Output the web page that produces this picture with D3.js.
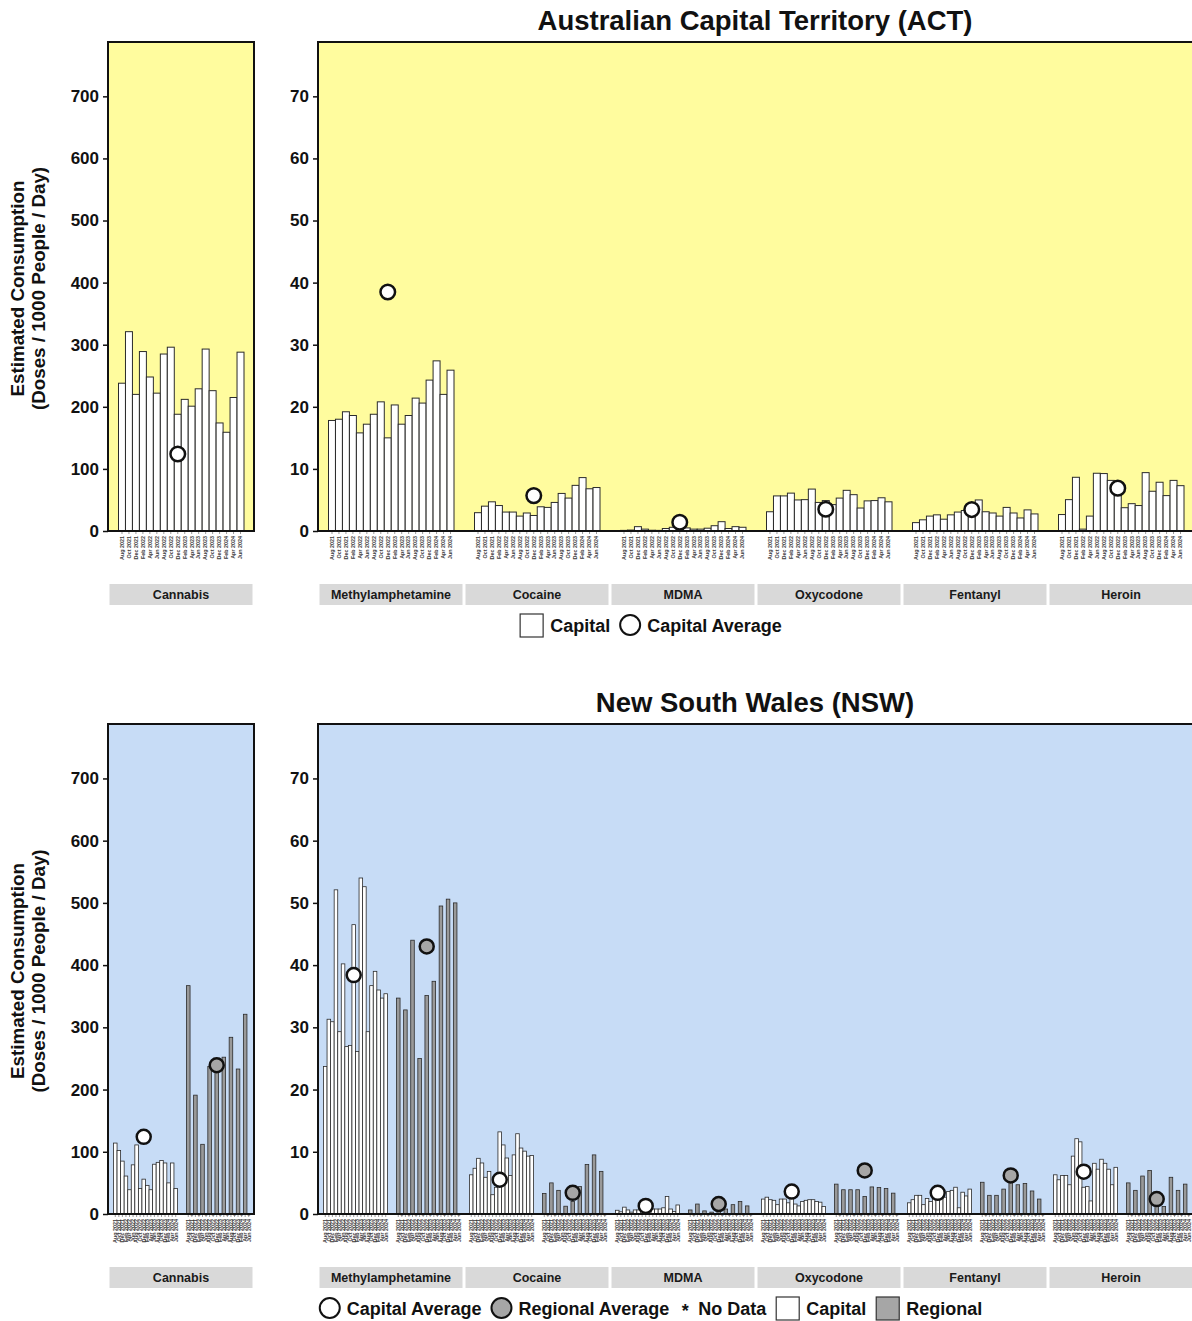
<!DOCTYPE html>
<html><head><meta charset="utf-8">
<script src="https://cdn.jsdelivr.net/npm/d3@7"></script>
<style>
body{margin:0;background:#fff;}
text{font-family:"Liberation Sans",Arial,Helvetica,sans-serif;}
</style>
</head><body>
<svg id="chart" width="1192" height="1321"></svg>
<script>
// ---------------- DATA ----------------
const months = ["Aug 2021","Oct 2021","Dec 2021","Feb 2022","Apr 2022","Jun 2022","Aug 2022","Oct 2022","Dec 2022",
  "Feb 2023","Apr 2023","Jun 2023","Aug 2023","Oct 2023","Dec 2023","Feb 2024","Apr 2024","Jun 2024"];
const drugs = ["Cannabis","Methylamphetamine","Cocaine","MDMA","Oxycodone","Fentanyl","Heroin"];
const mainTicks = [0,10,20,30,40,50,60,70];
const cannabisTicks = [0,100,200,300,400,500,600,700];

// ACT (capital only)
const actCannabis = [238,321,220,289,248,222,285,296,188,212,201,229,293,226,174,159,215,288];
const actMeth = [17.8,18.0,19.2,18.6,15.8,17.2,18.8,20.8,15.0,20.3,17.2,18.6,21.4,20.6,24.3,27.4,22.0,25.9];
const actCocaine = [2.95,4.0,4.7,4.1,3.05,3.05,2.4,2.9,2.5,3.9,3.8,4.6,6.05,5.3,7.35,8.6,6.8,7.0];
const actMDMA = [0.1,0.15,0.7,0.3,0.12,0.1,0.4,0.6,0.5,0.5,0.3,0.3,0.45,0.85,1.5,0.4,0.7,0.6];
const actOxycodone = [3.1,5.65,5.65,6.1,5.0,5.05,6.75,4.6,4.9,4.25,5.3,6.55,5.85,3.7,4.85,4.9,5.35,4.7];
const actFentanyl = [1.35,1.8,2.4,2.6,1.9,2.6,3.05,3.3,3.6,5.0,3.1,2.9,2.4,3.8,2.9,2.1,3.4,2.75];
const actHeroin = [2.65,5.05,8.65,0.3,2.4,9.3,9.25,8.15,6.5,3.75,4.4,4.1,9.4,6.4,7.85,5.7,8.15,7.3];
const actCapitalAvg = [124,38.5,5.7,1.4,3.5,3.45,6.9];

// NSW capital
const nswCapCannabis = [114,102,85,61,39,79,111,41,56,46,39,80,83,86,82,50,82,41];
const nswCapMeth = [23.7,31.3,30.9,52.1,29.3,40.2,26.9,27.1,46.5,26.1,54.0,52.6,29.3,36.7,39.0,36.0,34.7,35.4];
const nswCapCocaine = [6.3,7.35,8.95,8.2,5.9,6.85,3.1,4.3,13.2,11.1,9.0,6.2,9.5,12.9,10.6,10.1,9.3,9.4];
const nswCapMDMA = [0.6,0.35,1.1,0.65,0.3,0.65,0.65,0.9,1.2,0.5,0.8,0.8,0.8,1.0,2.8,0.8,0.4,1.45];
const nswCapOxycodone = [2.4,2.7,2.3,2.2,1.5,2.4,2.4,1.8,2.6,1.6,1.3,2.0,2.2,2.3,2.3,2.0,1.9,1.2];
const nswCapFentanyl = [1.8,2.3,3.0,3.0,1.5,2.5,2.0,2.6,2.5,2.6,2.7,3.6,3.8,4.3,1.0,3.5,2.9,4.0];
const nswCapHeroin = [6.3,5.5,6.2,6.2,4.7,9.3,12.1,11.6,4.3,4.4,2.1,8.15,7.2,8.8,8.15,7.2,4.7,7.5];
const nswCapitalAvg = [124,38.4,5.5,1.3,3.6,3.4,6.8];

// NSW regional (null = no data)
const nswRegCannabis = [367,null,191,null,112,null,237,null,240,null,252,null,284,null,233,null,321,null];
const nswRegMeth = [34.7,null,32.8,null,44.0,null,25.0,null,35.1,null,37.4,null,49.5,null,50.6,null,50.0,null];
const nswRegCocaine = [3.3,null,5.0,null,3.8,null,1.25,null,2.0,null,4.4,null,7.95,null,9.5,null,6.85,null];
const nswRegMDMA = [0.65,null,1.6,null,0.5,null,0.3,null,1.0,null,0.8,null,1.5,null,2.0,null,1.3,null];
const nswRegOxycodone = [4.8,null,3.9,null,3.9,null,3.9,null,2.8,null,4.35,null,4.25,null,4.1,null,3.35,null];
const nswRegFentanyl = [5.1,null,3.0,null,3.0,null,4.0,null,6.0,null,4.7,null,4.9,null,3.7,null,2.4,null];
const nswRegHeroin = [5.0,null,3.8,null,6.1,null,7.0,null,2.0,null,1.2,null,5.9,null,3.8,null,4.8,null];
const nswRegionalAvg = [239,43.0,3.4,1.6,7.0,6.2,2.4];

// ---------------- LAYOUT ----------------
const svg = d3.select("#chart");
const BW = 146;               // width of one drug facet band
const CAN_X0 = 108, MAIN_X0 = 318;
const AVG_INDEX = 8;          // average marker placed at middle sample date

const actCapital = [actCannabis,actMeth,actCocaine,actMDMA,actOxycodone,actFentanyl,actHeroin];
const nswCapital = [nswCapCannabis,nswCapMeth,nswCapCocaine,nswCapMDMA,nswCapOxycodone,nswCapFentanyl,nswCapHeroin];
const nswRegional = [nswRegCannabis,nswRegMeth,nswRegCocaine,nswRegMDMA,nswRegOxycodone,nswRegFentanyl,nswRegHeroin];

const panels = [
  {title:"Australian Capital Territory (ACT)", bg:"#fffc9e", top:42, bottom:531, titleY:30, stripY:584, legendY:626,
   series:[{key:"cap", data:actCapital, avg:actCapitalAvg, range:[10.5,136], fill:"#ffffff", avgFill:"#ffffff"}],
   legendFull:false},
  {title:"New South Wales (NSW)", bg:"#c7dcf6", top:724, bottom:1214, titleY:712, stripY:1267, legendY:1309,
   series:[{key:"cap", data:nswCapital, avg:nswCapitalAvg, range:[5.5,69.5], fill:"#ffffff", avgFill:"#ffffff"},
           {key:"reg", data:nswRegional, avg:nswRegionalAvg, range:[78.5,142.5], fill:"#999999", avgFill:"#a6a6a6"}],
   legendFull:true}
];

const drugBand = d3.scaleBand().domain(drugs.slice(1)).range([MAIN_X0, MAIN_X0 + 6*BW]);
function bandX(d){ return d === "Cannabis" ? CAN_X0 : drugBand(d); }

panels.forEach(p => {
  const g = svg.append("g");
  const yMain = d3.scaleLinear().domain([0,78.75]).range([p.bottom,p.top]);
  const yCan = d3.scaleLinear().domain([0,787.5]).range([p.bottom,p.top]);
  const yFor = d => d === "Cannabis" ? yCan : yMain;

  // title
  g.append("text").attr("x", MAIN_X0 + 3*BW - 1).attr("y", p.titleY).attr("text-anchor","middle")
    .attr("font-size",27.5).attr("font-weight","bold").attr("fill","#111").text(p.title);

  // facet backgrounds
  const facets = [{x0:CAN_X0, w:BW, y:yCan, ticks:cannabisTicks},{x0:MAIN_X0, w:6*BW, y:yMain, ticks:mainTicks}];
  facets.forEach(f => {
    g.append("rect").attr("x",f.x0).attr("y",p.top).attr("width",f.w).attr("height",p.bottom-p.top).attr("fill",p.bg);
  });

  // bars
  drugs.forEach((drug,di) => {
    const x0 = bandX(drug), y = yFor(drug);
    p.series.forEach(s => {
      const inner = d3.scaleBand().domain(months).range(s.range);
      const vals = s.data[di];
      const bars = months.map((m,i)=>({m, v:vals[i]}));
      g.append("g").selectAll("rect").data(bars.filter(b=>b.v!==null)).join("rect")
        .attr("x", b => x0 + inner(b.m)).attr("width", inner.bandwidth())
        .attr("y", b => y(b.v)).attr("height", b => y(0) - y(b.v))
        .attr("fill", s.fill).attr("stroke","#2b2b2b").attr("stroke-width", p.legendFull ? 0.8 : 1);
      g.append("g").selectAll("text").data(bars.filter(b=>b.v===null)).join("text")
        .attr("x", b => x0 + inner(b.m) + inner.bandwidth()/2).attr("y", p.bottom + 4)
        .attr("text-anchor","middle").attr("font-size",8).attr("font-weight","bold").attr("fill","#333").text("*");
      // x ticks + labels
      g.append("g").selectAll("line").data(months).join("line")
        .attr("x1", m => x0 + inner(m) + inner.bandwidth()/2).attr("x2", m => x0 + inner(m) + inner.bandwidth()/2)
        .attr("y1", p.bottom).attr("y2", p.bottom + 3).attr("stroke","#555").attr("stroke-width",0.6);
      g.append("g").selectAll("text").data(months).join("text")
        .attr("transform", m => `translate(${x0 + inner(m) + inner.bandwidth()/2 + 1.8},${p.bottom + 5}) rotate(-90)`)
        .attr("text-anchor","end").attr("font-size",5.4).attr("font-weight","bold").attr("fill","#3a3a3a").text(m => m);
    });
    // averages
    p.series.forEach(s => {
      const inner = d3.scaleBand().domain(months).range(s.range);
      g.append("circle").attr("cx", x0 + inner(months[AVG_INDEX]) + inner.bandwidth()/2)
        .attr("cy", y(s.avg[di])).attr("r", p.legendFull ? 7 : 7.3)
        .attr("fill", s.avgFill).attr("stroke","#111").attr("stroke-width",2.5);
    });
    // strip
    g.append("rect").attr("x", x0 + 1.5).attr("y", p.stripY).attr("width", BW - 3).attr("height", 21).attr("fill","#d9d9d9");
    g.append("text").attr("x", x0 + BW/2).attr("y", p.stripY + 15).attr("text-anchor","middle")
      .attr("font-size",12.5).attr("font-weight","bold").attr("fill","#1a1a1a").text(drug);
  });

  // frames, y axes
  facets.forEach(f => {
    g.append("rect").attr("x",f.x0).attr("y",p.top).attr("width",f.w).attr("height",p.bottom-p.top)
      .attr("fill","none").attr("stroke","#111").attr("stroke-width",2);
    const ax = g.append("g").attr("transform",`translate(${f.x0},0)`)
      .call(d3.axisLeft(f.y).tickValues(f.ticks).tickSize(5).tickPadding(4).tickFormat(d3.format("d")));
    ax.select(".domain").remove();
    ax.selectAll(".tick line").attr("stroke","#111").attr("stroke-width",1.5);
    ax.selectAll(".tick text").attr("font-size",17).attr("font-weight","bold").attr("fill","#111")
      .attr("font-family","Liberation Sans, Arial, sans-serif");
  });

  // y axis title
  const cy = (p.top + p.bottom)/2 + 2;
  g.append("text").attr("transform",`translate(24,${cy}) rotate(-90)`).attr("text-anchor","middle")
    .attr("font-size",18.8).attr("font-weight","bold").attr("fill","#111").text("Estimated Consumption");
  g.append("text").attr("transform",`translate(45,${cy}) rotate(-90)`).attr("text-anchor","middle")
    .attr("font-size",18.8).attr("font-weight","bold").attr("fill","#111").text("(Doses / 1000 People / Day)");

  // legend
  const items = p.legendFull
    ? [["circle","#ffffff","Capital Average"],["circle","#a6a6a6","Regional Average"],["star",null,"No Data"],["square","#ffffff","Capital"],["square","#a6a6a6","Regional"]]
    : [["square","#ffffff","Capital"],["circle","#ffffff","Capital Average"]];
  const lg = g.append("g");
  let cx = 0;
  const ly = p.legendY;
  items.forEach((it,i) => {
    if (i > 0) cx += 10;
    if (it[0] === "circle") {
      lg.append("circle").attr("cx", cx + 10).attr("cy", ly - 1).attr("r", 10).attr("fill", it[1]).attr("stroke","#111").attr("stroke-width",2);
      cx += 20;
    } else if (it[0] === "square") {
      lg.append("rect").attr("x", cx).attr("y", ly - 12).attr("width", 23).attr("height", 23).attr("fill", it[1]).attr("stroke","#333").attr("stroke-width",1.2);
      cx += 23;
    } else {
      lg.append("text").attr("x", cx + 6).attr("y", ly + 8).attr("text-anchor","middle").attr("font-size",18).attr("font-weight","bold").attr("fill","#111").text("*");
      cx += 12;
    }
    cx += 7;
    const t = lg.append("text").attr("x", cx).attr("y", ly + 6).attr("font-size",18).attr("font-weight","bold").attr("fill","#111").text(it[2]);
    cx += t.node().getComputedTextLength();
  });
  lg.attr("transform", `translate(${651 - cx/2},0)`);
});
</script>
</body></html>
